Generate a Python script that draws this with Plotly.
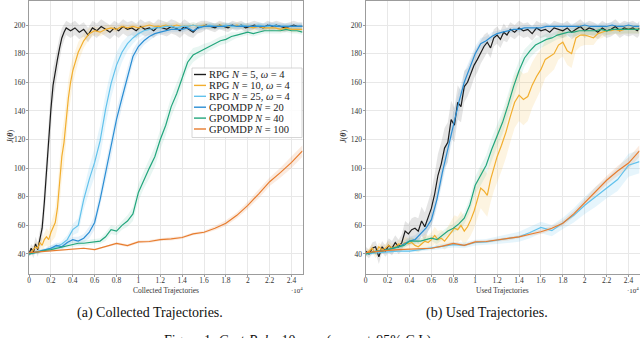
import plotly.graph_objects as go

# x values are in units of 10^4 trajectories

# ---------------- (a) collected trajectories ----------------
COLL_RPG5_X = [0, 0.02, 0.04, 0.06, 0.08, 0.10, 0.12, 0.14, 0.16, 0.18, 0.20, 0.22, 0.24, 0.26, 0.28, 0.30, 0.32, 0.34,
               0.38, 0.42, 0.46, 0.50, 0.54, 0.58, 0.62, 0.66, 0.70, 0.74, 0.78, 0.82, 0.86, 0.90, 0.94, 0.98, 1.02, 1.06,
               1.10, 1.14, 1.18, 1.22, 1.26, 1.30, 1.34, 1.38, 1.42, 1.46, 1.50, 1.54, 1.58, 1.62, 1.66, 1.70, 1.74, 1.78,
               1.82, 1.86, 1.90, 1.94, 1.98, 2.02, 2.06, 2.10, 2.14, 2.18, 2.22, 2.26, 2.30, 2.34, 2.38, 2.42, 2.46, 2.50]
COLL_RPG5_Y = [40, 44, 41, 47, 43, 50, 58, 76, 99, 120, 141, 158, 168, 176, 184, 191, 195, 198,
               196, 198, 195, 197, 193, 198, 196, 199, 197, 195, 198, 196, 199, 197, 198, 196, 199, 197,
               198, 196, 199, 198, 197, 199, 198, 196, 199, 197, 195, 198, 199, 200, 199, 198, 200, 199,
               198, 200, 199, 200, 198, 199, 200, 199, 198, 200, 199, 200, 199, 198, 199, 200, 199, 199]
COLL_RPG5_CI = [2, 3, 4, 5, 5, 6, 8, 12, 14, 15, 14, 12, 10, 9, 8, 7, 6, 5,
                5, 5, 5, 5, 5, 5, 5, 5, 5, 5, 5, 5, 5, 5, 5, 5, 5, 5,
                5, 5, 5, 5, 5, 5, 5, 5, 5, 5, 4, 4, 4, 3, 3, 3, 3, 3,
                3, 3, 3, 3, 3, 3, 3, 3, 3, 3, 3, 3, 3, 3, 3, 3, 3, 3]

COLL_RPG10_X = [0, 0.02, 0.04, 0.06, 0.08, 0.10, 0.12, 0.14, 0.16, 0.18, 0.20, 0.22, 0.24, 0.26, 0.28, 0.30, 0.32,
                0.34, 0.36, 0.38, 0.40,
                0.45, 0.50, 0.55, 0.60, 0.65, 0.70, 0.75, 0.80, 0.85, 0.90, 0.95, 1.00, 1.05, 1.10, 1.15, 1.20, 1.25,
                1.30, 1.35, 1.40, 1.45, 1.50, 1.55, 1.60, 1.65, 1.70, 1.75, 1.80, 1.85, 1.90, 1.95, 2.00, 2.05, 2.10,
                2.15, 2.20, 2.25, 2.30, 2.35, 2.40, 2.45, 2.50]
COLL_RPG10_Y = [40, 41, 43, 45, 44, 48, 46, 50, 52, 50, 55, 58, 62, 72, 92, 108, 118,
                134, 149, 160, 168,
                181, 189, 194, 196, 195, 197, 198, 197, 199, 198, 199, 198, 199, 200, 199, 199, 200,
                199, 200, 199, 199, 200, 199, 200, 199, 199, 200, 199, 199, 200, 199, 199, 198, 199,
                198, 198, 198, 197, 198, 197, 197, 197]
COLL_RPG10_CI = [1, 2, 3, 3, 4, 4, 5, 5, 6, 6, 7, 8, 10, 14, 16, 16, 16,
                 15, 13, 11, 9,
                 7, 5, 4, 3, 3, 3, 2, 2, 2, 2, 2, 2, 2, 2, 2, 2, 2,
                 2, 2, 2, 2, 2, 2, 2, 2, 2, 2, 2, 2, 2, 2, 2, 2, 2,
                 2, 2, 2, 2, 2, 2, 2, 2]

STEP05_X = [0, 0.05, 0.10, 0.15, 0.20, 0.25, 0.30, 0.35, 0.40, 0.45, 0.50, 0.55, 0.60, 0.65, 0.70, 0.75, 0.80,
            0.85, 0.90, 0.95, 1.00, 1.05, 1.10, 1.15, 1.20, 1.25, 1.30, 1.35, 1.40, 1.45, 1.50, 1.55, 1.60, 1.65,
            1.70, 1.75, 1.80, 1.85, 1.90, 1.95, 2.00, 2.05, 2.10, 2.15, 2.20, 2.25, 2.30, 2.35, 2.40, 2.45, 2.50]

COLL_RPG25_Y = [40, 41, 42, 43, 44, 45, 47, 50, 57, 60, 78, 92, 104, 119, 141, 159, 172,
                181, 187, 191, 194, 196, 197, 198, 198, 199, 199, 198, 199, 199, 200, 199, 199, 200,
                199, 199, 200, 199, 199, 200, 199, 199, 200, 199, 199, 200, 199, 199, 199, 199, 199]
COLL_RPG25_CI = [1, 1, 1, 1, 2, 2, 2, 3, 4, 5, 7, 9, 10, 11, 11, 10, 9,
                 7, 5, 4, 3, 3, 2, 2, 2, 2, 2, 2, 2, 2, 2, 2, 2, 2,
                 2, 2, 2, 2, 2, 2, 2, 2, 2, 2, 2, 2, 2, 2, 2, 2, 2]

COLL_GPOMDP20_Y = [40, 41, 42, 43, 44, 46, 45, 48, 50, 49, 51, 55, 62, 78, 97, 114, 134,
                   149, 164, 178, 185, 189, 192, 194, 195, 196, 197, 197, 197, 198, 196, 198, 199, 199,
                   199, 199, 199, 200, 199, 199, 199, 199, 199, 199, 200, 199, 199, 199, 199, 199, 199]
COLL_GPOMDP20_CI = [1, 1, 1, 1, 2, 2, 2, 2, 2, 3, 3, 4, 5, 6, 7, 7, 7,
                    7, 6, 5, 4, 3, 3, 2, 2, 2, 2, 2, 2, 2, 2, 2, 2, 2,
                    2, 2, 2, 2, 2, 2, 2, 2, 2, 2, 2, 2, 2, 2, 2, 2, 2]

COLL_GPOMDP40_Y = [40, 41, 42, 42.5, 43, 44, 45, 46, 47, 47.5, 47.5, 48, 49, 49, 52, 57, 56,
                   60, 63, 68, 83, 92, 100, 108, 120, 130, 143, 152, 163, 174, 179, 181, 183, 185,
                   187, 189, 190, 192, 193, 194, 195, 194, 195, 196, 196, 196, 196, 197, 196, 196, 195]
COLL_GPOMDP40_CI = [1, 1, 1, 1, 1, 1, 1, 2, 2, 2, 2, 2, 2, 2, 3, 3, 3,
                    3, 4, 5, 6, 6, 7, 7, 7, 7, 7, 7, 6, 5, 5, 4, 4, 3,
                    3, 3, 3, 3, 2, 2, 2, 2, 2, 2, 2, 2, 2, 2, 2, 2, 2]

STEP10_X = [0, 0.1, 0.2, 0.3, 0.4, 0.5, 0.6, 0.7, 0.8, 0.9, 1.0, 1.1, 1.2, 1.3, 1.4, 1.5, 1.6, 1.7, 1.8, 1.9,
            2.0, 2.1, 2.2, 2.3, 2.4, 2.5]
COLL_GPOMDP100_Y = [41, 41.5, 42, 42.5, 43, 44, 43, 45, 47.4, 45.8, 48.5, 48.7, 50, 50.5, 51.5, 54, 55.2, 58,
                    61.5, 67, 74, 82, 90.5, 97, 104, 112]
COLL_GPOMDP100_CI = [0.5, 0.5, 0.5, 0.5, 0.5, 0.5, 0.5, 0.5, 1, 1, 1, 1, 1, 1, 1, 1, 1, 1.5,
                     2, 2, 2.5, 3, 3, 3.5, 4, 4]

# ---------------- (b) used trajectories ----------------
USED_RPG5_X = [0, 0.03, 0.06, 0.09, 0.12, 0.15, 0.18, 0.21, 0.24, 0.27, 0.30, 0.33, 0.36, 0.39, 0.42, 0.45,
               0.48, 0.51, 0.54, 0.57, 0.60, 0.63, 0.66, 0.69, 0.72, 0.75, 0.78, 0.81, 0.84, 0.87, 0.90, 0.93,
               0.96, 0.99, 1.02, 1.05, 1.08, 1.11, 1.14, 1.17, 1.20, 1.23, 1.26, 1.29, 1.32,
               1.36, 1.40, 1.44, 1.48, 1.52, 1.56, 1.60, 1.64, 1.68, 1.72, 1.76, 1.80, 1.84, 1.88, 1.92, 1.96,
               2.00, 2.04, 2.08, 2.12, 2.16, 2.20, 2.24, 2.28, 2.32, 2.36, 2.40, 2.44, 2.48, 2.50]
USED_RPG5_Y = [42, 40, 44, 45, 38, 45, 42, 46, 44, 48, 45, 48, 56, 54, 57, 58,
               56, 63, 59, 66, 72, 82, 95, 103, 114, 118, 134, 130, 146, 143, 157, 160,
               166, 172, 176, 181, 185, 188, 184, 191, 193, 190, 195, 193, 197,
               195, 198, 196, 197, 194, 198, 196, 197, 195, 198, 197, 196, 198, 195, 197, 199,
               196, 198, 197, 195, 198, 196, 197, 199, 196, 198, 197, 198, 196, 198]
USED_RPG5_CI = [3, 3, 4, 4, 5, 4, 4, 5, 5, 5, 5, 6, 7, 7, 8, 8,
                9, 10, 10, 10, 12, 14, 15, 15, 14, 14, 13, 12, 12, 11, 11, 10,
                10, 9, 9, 8, 8, 7, 7, 6, 6, 6, 6, 5, 5,
                5, 5, 5, 5, 5, 5, 5, 5, 5, 5, 5, 5, 5, 5, 5, 5,
                5, 5, 5, 5, 5, 5, 5, 5, 5, 5, 5, 5, 5, 5]

USED_RPG10_X = [0, 0.03, 0.06, 0.09, 0.12, 0.15, 0.18, 0.21, 0.24, 0.27, 0.30, 0.33, 0.36, 0.39, 0.42, 0.45,
                0.48, 0.51, 0.54, 0.57, 0.60, 0.63, 0.66, 0.69, 0.72, 0.75, 0.78, 0.81, 0.84, 0.87, 0.90, 0.93,
                0.96, 0.99, 1.02, 1.05, 1.08, 1.11, 1.14, 1.17, 1.20,
                1.24, 1.28, 1.32, 1.36, 1.40, 1.44, 1.48, 1.52, 1.56, 1.60, 1.64, 1.68, 1.72, 1.76, 1.80, 1.84,
                1.88, 1.92, 1.96, 2.00, 2.04, 2.08, 2.12, 2.16, 2.20, 2.24, 2.28, 2.32, 2.36, 2.40, 2.44, 2.48, 2.50]
USED_RPG10_Y = [40, 42, 44, 40, 45, 43, 44, 46, 44, 45, 47, 46, 48, 47, 48, 46,
                45, 47, 49, 48, 50, 53, 50, 51, 49, 52, 55, 58, 57, 60, 56, 59,
                64, 70, 78, 86, 84, 81, 92, 101, 108,
                116, 125, 136, 146, 151, 148, 150, 158, 164, 169, 176, 178, 180, 186, 188, 182,
                180, 191, 193, 193, 192, 191, 194, 195, 196, 196, 197, 196, 197, 197, 197, 197, 197]
USED_RPG10_CI = [2, 2, 3, 3, 3, 3, 3, 3, 3, 3, 3, 3, 4, 4, 4, 4,
                 4, 4, 5, 5, 5, 6, 6, 6, 6, 7, 8, 9, 9, 10, 10, 10,
                 11, 12, 13, 14, 15, 15, 16, 17, 18,
                 18, 18, 18, 18, 18, 18, 17, 16, 15, 14, 13, 12, 11, 10, 10, 10,
                 10, 9, 8, 7, 6, 5, 4, 4, 3, 3, 3, 3, 3, 3, 3, 3, 3]

USED_RPG25_Y = [40, 41, 41.5, 42, 42, 43, 44, 45, 46.5, 46, 48, 48.5, 49.5, 50.5, 52, 55, 58.5, 56.3,
                61.4, 67, 74, 80, 86, 92, 102, 104.5]
USED_RPG25_CI = [1, 1, 1, 1, 1, 1, 1.5, 1.5, 2, 2, 2, 2, 2.5, 3, 3.5, 4, 4, 4,
                 4, 5, 6, 7, 7, 8, 8, 8]

USED_GPOMDP20_Y = [41, 41, 42, 42, 43, 44, 45, 47, 49, 50, 54, 58, 64, 78, 97, 114, 131,
                   146, 160, 170, 180, 187, 189, 192, 194, 195, 196, 197, 197, 198, 198, 198, 198, 199,
                   199, 199, 199, 199, 199, 199, 200, 199, 199, 199, 199, 200, 199, 199, 200, 199, 199]
USED_GPOMDP20_CI = [1, 1, 1, 1, 1, 2, 2, 2, 3, 3, 3, 4, 5, 6, 7, 8, 8,
                    8, 7, 6, 5, 4, 3, 3, 2, 2, 2, 2, 2, 2, 2, 2, 2, 2,
                    2, 2, 2, 2, 2, 2, 2, 2, 2, 2, 2, 2, 2, 2, 2, 2, 2]

USED_GPOMDP40_Y = [40, 41, 42, 42, 43, 44, 45, 46, 49, 49, 49, 50, 51, 50, 53, 56, 58,
                   61, 65, 74, 88, 95, 102, 113, 123, 132, 144, 157, 168, 177, 182, 186, 188, 190,
                   191, 193, 194, 195, 195, 196, 196, 196, 196, 197, 196, 197, 197, 197, 197, 197, 197]
USED_GPOMDP40_CI = [1, 1, 1, 1, 1, 1, 1, 2, 2, 2, 2, 2, 2, 3, 3, 3, 3,
                    4, 4, 5, 6, 7, 7, 8, 8, 8, 8, 8, 7, 6, 5, 5, 4, 4,
                    3, 3, 3, 3, 3, 3, 3, 3, 3, 3, 3, 3, 3, 3, 3, 3, 3]

USED_GPOMDP100_Y = [41, 42, 42.5, 43, 43.5, 44, 44, 45.5, 47.4, 46, 48.5, 48.7, 49.8, 50.5, 52, 53.8, 55.5,
                    58, 61.5, 68, 76, 84, 91.5, 98, 103.5, 112]
USED_GPOMDP100_CI = [0.5, 0.5, 0.5, 0.5, 0.5, 0.5, 0.5, 0.5, 1, 1, 1, 1, 1, 1, 1, 1, 1.5,
                     1.5, 2, 2, 2.5, 3, 3, 3.5, 4, 4]

LEGEND_LABELS = ["RPG <i>N</i> = 5, <i>ω</i> = 4", "RPG <i>N</i> = 10, <i>ω</i> = 4",
                 "RPG <i>N</i> = 25, <i>ω</i> = 4", "GPOMDP <i>N</i> = 20",
                 "GPOMDP <i>N</i> = 40", "GPOMDP <i>N</i> = 100"]
COLORS = ["#1c1c1c", "#f2ae2e", "#62c2ec", "#2b8ed4", "#22a67c", "#e77c2e"]
BANDS = ["rgba(110,110,110,0.18)", "rgba(242,174,46,0.14)", "rgba(98,194,236,0.16)",
         "rgba(43,142,212,0.12)", "rgba(34,166,124,0.10)", "rgba(231,124,46,0.15)"]

X_TICKS = [0, 0.2, 0.4, 0.6, 0.8, 1, 1.2, 1.4, 1.6, 1.8, 2, 2.2, 2.4]
X_TICKTEXT = ["0", "0.2", "0.4", "0.6", "0.8", "1", "1.2", "1.4", "1.6", "1.8", "2", "2.2", "2.4"]
Y_TICKS = [40, 60, 80, 100, 120, 140, 160, 180, 200]

W, H = 640, 338
SERIF = "Liberation Serif"


def px(x):
    return x / W


def py(y):
    return 1 - y / H


def add_curve(fig, x, y, ci, idx, xa, ya):
    upper = [a + b for a, b in zip(y, ci)]
    lower = [a - b for a, b in zip(y, ci)]
    fig.add_trace(go.Scatter(x=list(x) + list(x)[::-1], y=upper + lower[::-1], fill='toself',
                             fillcolor=BANDS[idx], line=dict(width=0), hoverinfo='skip',
                             showlegend=False, xaxis=xa, yaxis=ya))
    return go.Scatter(x=x, y=y, mode='lines', line=dict(color=COLORS[idx], width=1.2),
                      showlegend=False, xaxis=xa, yaxis=ya)


def text(x, y, s, size, color='#333333', **kw):
    # positions given in pixels from the top-left corner of the figure
    d = dict(x=px(x), y=py(y), text=s, showarrow=False, xref='paper', yref='paper',
             xanchor='center', yanchor='middle', font=dict(family=SERIF, size=size, color=color))
    d.update(kw)
    return d


fig = go.Figure()
lines = []
left = [(COLL_RPG5_X, COLL_RPG5_Y, COLL_RPG5_CI), (COLL_RPG10_X, COLL_RPG10_Y, COLL_RPG10_CI),
        (STEP05_X, COLL_RPG25_Y, COLL_RPG25_CI), (STEP05_X, COLL_GPOMDP20_Y, COLL_GPOMDP20_CI),
        (STEP05_X, COLL_GPOMDP40_Y, COLL_GPOMDP40_CI), (STEP10_X, COLL_GPOMDP100_Y, COLL_GPOMDP100_CI)]
right = [(USED_RPG5_X, USED_RPG5_Y, USED_RPG5_CI), (USED_RPG10_X, USED_RPG10_Y, USED_RPG10_CI),
         (STEP10_X, USED_RPG25_Y, USED_RPG25_CI), (STEP05_X, USED_GPOMDP20_Y, USED_GPOMDP20_CI),
         (STEP05_X, USED_GPOMDP40_Y, USED_GPOMDP40_CI), (STEP10_X, USED_GPOMDP100_Y, USED_GPOMDP100_CI)]
for i, (x, y, ci) in enumerate(left):
    lines.append(add_curve(fig, x, y, ci, i, 'x', 'y'))
for i, (x, y, ci) in enumerate(right):
    lines.append(add_curve(fig, x, y, ci, i, 'x2', 'y2'))
for tr in lines:
    fig.add_trace(tr)

tickfont = dict(family=SERIF, size=7.5, color='#333333')
axis_common = dict(showline=True, linecolor='#9c9c9c', linewidth=1.3, mirror=True,
                   showgrid=True, gridcolor='#e8e8e8', gridwidth=1, zeroline=False, automargin=False,
                   ticks='outside', ticklen=2, tickcolor='#9c9c9c', tickfont=tickfont)
xa = dict(axis_common, range=[0, 2.5], tickvals=X_TICKS, ticktext=X_TICKTEXT, ticklabelstandoff=-3)
ya = dict(axis_common, range=[26, 216.8], tickvals=Y_TICKS, ticklabelstandoff=-1)

fig.update_layout(
    width=W, height=H, margin=dict(l=0, r=0, t=0, b=0, pad=0, autoexpand=False),
    plot_bgcolor='white', paper_bgcolor='white', showlegend=False,
    xaxis=dict(xa, domain=[px(29), px(302.5)], anchor='y'),
    yaxis=dict(ya, domain=[py(274), py(1)], anchor='x'),
    xaxis2=dict(xa, domain=[px(365.7), px(639.5)], anchor='y2'),
    yaxis2=dict(ya, domain=[py(274), py(1)], anchor='x2'),
)

ann = []
# axis titles, exponent and y labels
for cx, title, ex, jx in [(166, "Collected Trajectories", 297, 10), (502.6, "Used Trajectories", 633, 343)]:
    ann.append(text(cx, 290, title, 7.5))
    ann.append(text(ex, 290, "·10<sup>4</sup>", 7))
    ann.append(text(jx, 137, "<i>J</i>(<b><i>θ</i></b>)", 8, textangle=-90))
# captions
ann.append(text(150, 313, "(a) Collected Trajectories.", 14, '#111111'))
ann.append(text(487, 313, "(b) Used Trajectories.", 14, '#111111'))
ann.append(text(162, 341, "Figure 1: <i>Cart-Pole</i>, 10 runs (mean ± 95% C.I.)", 14, '#111111', xanchor='left'))

# legend box drawn by hand (inside the left panel)
shapes = [dict(type='rect', xref='paper', yref='paper', x0=px(192), x1=px(302), y0=py(137.5), y1=py(68),
               line=dict(color='#cccccc', width=0.8), fillcolor='rgba(255,255,255,0.85)', layer='above')]
for i, label in enumerate(LEGEND_LABELS):
    yy = 74.5 + 10.9 * i
    shapes.append(dict(type='line', xref='paper', yref='paper', x0=px(194), x1=px(206), y0=py(yy), y1=py(yy),
                       line=dict(color=COLORS[i], width=1.4), layer='above'))
    ann.append(text(207, yy, label, 10.5, '#222222', xanchor='left'))

fig.update_layout(annotations=ann, shapes=shapes)
# the page body has a default 8px margin; drop it so the figure sits at the window's corner
fig.write_html("out.html", config={'displayModeBar': False},
               post_script="document.body.style.margin='0px';")
